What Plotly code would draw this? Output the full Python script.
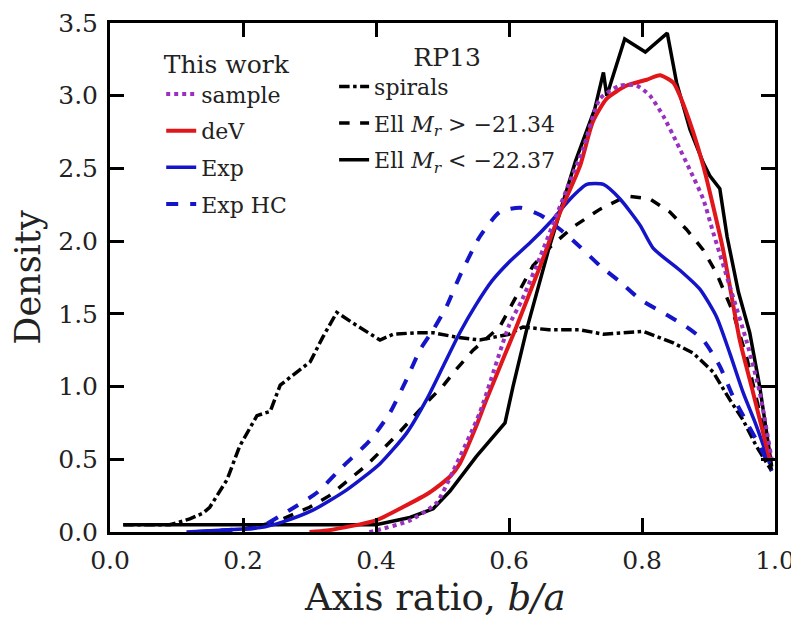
import plotly.graph_objects as go

# ---------------- data ----------------
sample_x = [0.39, 0.40, 0.451, 0.491, 0.516, 0.556, 0.60, 0.62, 0.651, 0.687, 0.711, 0.737, 0.767, 0.792, 0.812, 0.832, 0.852, 0.872, 0.892, 0.907, 0.932, 0.958, 0.977, 0.995]
sample_y = [0.0, 0.01, 0.08, 0.20, 0.42, 0.82, 1.42, 1.60, 1.94, 2.36, 2.63, 2.98, 3.07, 3.07, 3.00, 2.86, 2.68, 2.49, 2.29, 2.06, 1.69, 1.30, 0.96, 0.50]

dev_x = [0.30, 0.326, 0.40, 0.44, 0.48, 0.511, 0.526, 0.55, 0.566, 0.611, 0.647, 0.677, 0.707, 0.726, 0.747, 0.777, 0.807, 0.827, 0.847, 0.857, 0.877, 0.892, 0.907, 0.922, 0.947, 0.967, 0.992]
dev_y = [0.0, 0.01, 0.08, 0.17, 0.27, 0.38, 0.47, 0.72, 0.91, 1.41, 1.83, 2.20, 2.52, 2.82, 2.98, 3.07, 3.11, 3.14, 3.09, 3.00, 2.75, 2.52, 2.24, 1.94, 1.32, 0.96, 0.50]

exp_x = [0.115, 0.20, 0.226, 0.26, 0.305, 0.356, 0.406, 0.446, 0.476, 0.501, 0.526, 0.55, 0.575, 0.601, 0.632, 0.662, 0.692, 0.717, 0.742, 0.767, 0.797, 0.817, 0.857, 0.887, 0.912, 0.932, 0.952, 0.972, 0.992]
exp_y = [0.0, 0.02, 0.03, 0.07, 0.15, 0.29, 0.47, 0.68, 0.91, 1.14, 1.37, 1.56, 1.73, 1.86, 1.99, 2.13, 2.29, 2.39, 2.39, 2.29, 2.11, 1.95, 1.80, 1.67, 1.48, 1.23, 0.96, 0.73, 0.47]

exphc_x = [0.13, 0.20, 0.226, 0.27, 0.311, 0.35, 0.391, 0.421, 0.446, 0.466, 0.486, 0.506, 0.526, 0.556, 0.586, 0.617, 0.647, 0.677, 0.707, 0.737, 0.767, 0.797, 0.842, 0.867, 0.892, 0.917, 0.937, 0.958, 0.977, 0.995]
exphc_y = [0.0, 0.02, 0.035, 0.15, 0.27, 0.45, 0.63, 0.82, 1.05, 1.25, 1.39, 1.55, 1.76, 2.03, 2.20, 2.23, 2.18, 2.08, 1.96, 1.83, 1.72, 1.60, 1.48, 1.41, 1.32, 1.14, 0.93, 0.75, 0.59, 0.42]

spir_x = [0.02, 0.09, 0.12, 0.14, 0.15, 0.176, 0.195, 0.221, 0.241, 0.256, 0.281, 0.301, 0.32, 0.341, 0.371, 0.406, 0.426, 0.461, 0.486, 0.521, 0.556, 0.60, 0.621, 0.66, 0.707, 0.742, 0.772, 0.802, 0.847, 0.877, 0.907, 0.932, 0.952, 0.972, 0.995]
spir_y = [0.05, 0.05, 0.09, 0.13, 0.17, 0.36, 0.59, 0.80, 0.83, 1.01, 1.10, 1.17, 1.34, 1.51, 1.42, 1.32, 1.36, 1.37, 1.37, 1.34, 1.32, 1.36, 1.41, 1.39, 1.39, 1.36, 1.37, 1.38, 1.30, 1.23, 1.10, 0.91, 0.77, 0.59, 0.42]

ellf_x = [0.20, 0.25, 0.30, 0.33, 0.386, 0.43, 0.476, 0.50, 0.521, 0.546, 0.586, 0.617, 0.636, 0.662, 0.697, 0.737, 0.777, 0.812, 0.842, 0.867, 0.892, 0.912, 0.937, 0.958, 0.977, 0.995]
ellf_y = [0.02, 0.07, 0.17, 0.25, 0.46, 0.66, 0.89, 1.00, 1.12, 1.25, 1.41, 1.67, 1.83, 1.96, 2.10, 2.22, 2.31, 2.29, 2.20, 2.08, 1.94, 1.78, 1.51, 1.19, 0.82, 0.42]

ellb_x = [0.02, 0.40, 0.451, 0.486, 0.511, 0.551, 0.594, 0.606, 0.627, 0.66, 0.70, 0.729, 0.742, 0.747, 0.774, 0.805, 0.838, 0.852, 0.872, 0.892, 0.902, 0.917, 0.928, 0.945, 0.962, 0.977, 0.995]
ellb_y = [0.05, 0.05, 0.10, 0.16, 0.28, 0.52, 0.75, 1.00, 1.40, 1.95, 2.55, 2.91, 3.16, 3.00, 3.39, 3.30, 3.43, 3.09, 2.77, 2.54, 2.45, 2.36, 2.03, 1.65, 1.37, 1.00, 0.45]

x_ticks = [0.0, 0.2, 0.4, 0.6, 0.8, 1.0]
y_ticks = [0.0, 0.5, 1.0, 1.5, 2.0, 2.5, 3.0, 3.5]

FONT = "DejaVu Serif"
TXT = "#222222"

fig = go.Figure()

# RP13 (drawn first, underneath)
fig.add_trace(go.Scatter(x=spir_x, y=spir_y, mode="lines", name="spirals",
                         line=dict(color="black", width=3.5, dash="dashdot"),
                         legend="legend2", legendgroup="g5", legendrank=5))
fig.add_trace(go.Scatter(x=ellf_x, y=ellf_y, mode="lines",
                         name="Ell <i>M<sub>r</sub></i> &gt; \u221221.34",
                         line=dict(color="black", width=3.5, dash="dash"),
                         legend="legend2", legendgroup="g6", legendrank=6))
fig.add_trace(go.Scatter(x=ellb_x, y=ellb_y, mode="lines",
                         name="Ell <i>M<sub>r</sub></i> &lt; \u221222.37",
                         line=dict(color="black", width=3.5),
                         legend="legend2", legendgroup="g7", legendrank=7))

# This work (smooth density estimates)
fig.add_trace(go.Scatter(x=exp_x, y=exp_y, mode="lines", name="Exp",
                         line=dict(color="#1414c8", width=3.5, shape="spline", smoothing=0.6),
                         legend="legend", legendgroup="g3", legendrank=3))
fig.add_trace(go.Scatter(x=exphc_x, y=exphc_y, mode="lines", name="Exp HC",
                         line=dict(color="#1414c8", width=4, dash="dash", shape="spline", smoothing=0.6),
                         legend="legend", legendgroup="g4", legendrank=4))
fig.add_trace(go.Scatter(x=dev_x, y=dev_y, mode="lines", name="deV",
                         line=dict(color="#e0161b", width=4, shape="spline", smoothing=0.6),
                         legend="legend", legendgroup="g2", legendrank=2))
fig.add_trace(go.Scatter(x=sample_x, y=sample_y, mode="lines", name="sample",
                         line=dict(color="#9a30c0", width=4, dash="dot", shape="spline", smoothing=0.6),
                         legend="legend", legendgroup="g1", legendrank=1))

axis_common = dict(
    showline=True, linecolor="black", linewidth=3, mirror="ticks",
    ticks="inside", ticklen=14, tickwidth=2.5, tickcolor="black",
    showgrid=False, zeroline=False, automargin=False,
    tickfont=dict(family=FONT, size=25, color=TXT),
)

# The page body has an 8px margin, so the figure is sized/placed to compensate.
fig.update_layout(
    width=791, height=617,
    paper_bgcolor="white", plot_bgcolor="white",
    margin=dict(l=102, r=24, t=15, b=93, autoexpand=False),
    font=dict(family=FONT, color=TXT),
    xaxis=dict(range=[0, 1], tickvals=x_ticks,
               ticktext=[f"{v:.1f}" for v in x_ticks],
               ticklabelstandoff=4, **axis_common),
    yaxis=dict(range=[0, 3.5], tickvals=y_ticks,
               ticktext=[f"{v:.1f}" for v in y_ticks],
               title=dict(text="Density", font=dict(family=FONT, size=35, color=TXT), standoff=10),
               ticklabelstandoff=4, **axis_common),
    legend=dict(x=0.077, y=0.965, xanchor="left", yanchor="top",
                bgcolor="rgba(0,0,0,0)", borderwidth=0,
                font=dict(family=FONT, size=22, color=TXT),
                title=dict(text="This work", side="top center",
                           font=dict(family=FONT, size=25, color=TXT)),
                traceorder="grouped", tracegroupgap=5),
    legend2=dict(x=0.337, y=0.98, xanchor="left", yanchor="top",
                 bgcolor="rgba(0,0,0,0)", borderwidth=0,
                 font=dict(family=FONT, size=22, color=TXT),
                 title=dict(text="RP13", side="top center",
                            font=dict(family=FONT, size=25, color=TXT)),
                 traceorder="grouped", tracegroupgap=5),
    annotations=[dict(text="Axis ratio, <i>b/a</i>", xref="paper", yref="paper",
                      x=0.489, y=-0.128, xanchor="center", yanchor="middle",
                      showarrow=False, font=dict(family=FONT, size=37, color=TXT))],
)

fig.write_html("out.html")
